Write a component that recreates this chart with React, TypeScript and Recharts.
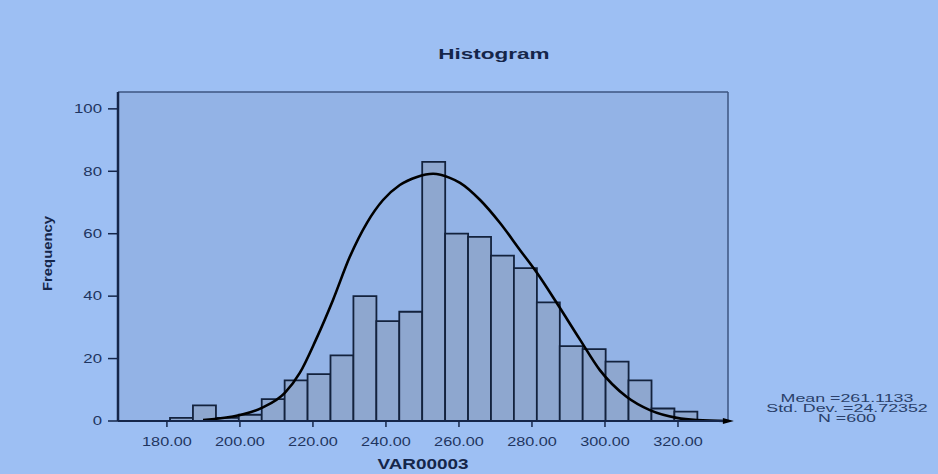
import React from 'react'
import {
  ComposedChart, Bar, Line, XAxis, YAxis, CartesianGrid, ReferenceLine,
} from 'recharts'

// Histogram bins (centre of each bin) and their counts
const BIN_CENTERS = [
  183.99, 190.27, 196.55, 202.83, 209.11, 215.39, 221.67, 227.95,
  234.23, 240.51, 246.79, 253.07, 259.35, 265.63, 271.91, 278.19,
  284.47, 290.75, 297.03, 303.31, 309.59, 315.87, 322.15,
]
const BIN_COUNTS = [
  1, 5, 1, 2, 7, 13, 15, 21,
  40, 32, 35, 83, 60, 59, 53, 49,
  38, 24, 23, 19, 13, 4, 3,
]

// Fitted curve, sampled by eye along the drawn line
const CURVE_X = [
  189.9, 200, 206, 212.3, 216.4, 220.8, 225.5, 230.1, 234.8, 239.2,
  243.8, 248.5, 252.9, 257.5, 260.3, 265.8, 271.2, 276.7, 281.4, 286.8,
  293.2, 298.6, 306, 312.3, 319.7, 325.2, 333.4,
]
const CURVE_Y = [
  0.3, 1.9, 4.2, 9, 15.4, 26, 38.8, 52.6, 63.5, 70.8,
  75.6, 78.2, 79.2, 77.9, 76.3, 70.8, 63.5, 54.8, 47.4, 37.8,
  26, 16.3, 7.7, 3.5, 1.0, 0.3, 0,
]

const X_TICKS = [180, 200, 220, 240, 260, 280, 300, 320]
const Y_TICKS = [0, 20, 40, 60, 80, 100]
const X_DOMAIN: [number, number] = [166.6, 333.7]
const Y_MAX = 105.4

const STATS = ['Mean =261.1133', 'Std. Dev. =24.72352', 'N =600']

const FONT = '"Liberation Sans", Arial, sans-serif'
const INK = '#15264a'
const LABEL = '#1f3560'

const bins = BIN_CENTERS.map((x, i) => ({ x, count: BIN_COUNTS[i] }))
const curve = CURVE_X.map((x, i) => ({ x, y: CURVE_Y[i] }))

function XTick(props: any) {
  const { x, y, payload } = props
  return (
    <g transform={`translate(${x},${y})`}>
      <text dy={17} textAnchor="middle" transform="scale(1.3,1)"
        fontSize={12.5} fill={LABEL} fontFamily={FONT}>
        {Number(payload.value).toFixed(2)}
      </text>
    </g>
  )
}

function YTick(props: any) {
  const { x, y, payload } = props
  return (
    <g transform={`translate(${x - 4},${y})`}>
      <text dy={4.3} textAnchor="end" transform="scale(1.4,1)"
        fontSize={12} fill={LABEL} fontFamily={FONT}>
        {payload.value}
      </text>
    </g>
  )
}

function CurveEnd(props: any) {
  const { cx, cy, index } = props
  if (index !== CURVE_X.length - 1) return <g key={index} />
  return (
    <path key={index} d={`M${cx - 4},${cy - 3}L${cx + 7},${cy}L${cx - 4},${cy + 3}Z`} fill="#000" />
  )
}

export default function App() {
  return (
    <div style={{
      position: 'absolute', left: 0, top: 0, width: 938, height: 474,
      background: '#9dbff3', overflow: 'hidden', fontFamily: FONT,
    }}>
      {/* title */}
      <div style={{
        position: 'absolute', left: 394, top: 46, width: 200, textAlign: 'center',
        fontSize: 15, lineHeight: '15px', fontWeight: 700, color: INK,
        transform: 'scaleX(1.5)',
      }}>Histogram</div>

      {/* y axis title */}
      <div style={{
        position: 'absolute', left: -3, top: 247, width: 100, textAlign: 'center',
        fontSize: 13, lineHeight: '13px', fontWeight: 700, color: INK,
        transform: 'rotate(-90deg) scaleX(1.14)',
      }}>Frequency</div>

      {/* x axis title */}
      <div style={{
        position: 'absolute', left: 323, top: 456, width: 200, textAlign: 'center',
        fontSize: 15, lineHeight: '15px', fontWeight: 700, color: INK,
        transform: 'scaleX(1.26)',
      }}>VAR00003</div>

      {/* stats box */}
      <div style={{
        position: 'absolute', left: 747, top: 394, width: 200, textAlign: 'center',
        fontSize: 10, lineHeight: '10px', color: '#2a3f6a',
        transform: 'scaleX(1.78)',
      }}>
        {STATS.map((s) => <div key={s}>{s}</div>)}
      </div>

      <div style={{ position: 'absolute', left: 0, top: 0 }}>
        <ComposedChart width={938} height={474} data={bins}
          barCategoryGap={0} barGap={0}
          margin={{ top: 92, right: 210, bottom: 23, left: 58 }}>
          <CartesianGrid horizontal={false} vertical={false} fill="#93b3e6" />
          <XAxis xAxisId="bins" type="number" dataKey="x" domain={X_DOMAIN}
            orientation="top" height={0} hide />
          <XAxis xAxisId="val" type="number" dataKey="x" domain={X_DOMAIN}
            ticks={X_TICKS} height={30} tick={<XTick />}
            tickSize={6} axisLine={{ stroke: INK, strokeWidth: 2 }}
            tickLine={{ stroke: INK, strokeWidth: 1.5 }} />
          <YAxis type="number" domain={[0, Y_MAX]} ticks={Y_TICKS} width={60}
            tick={<YTick />} tickSize={10}
            axisLine={{ stroke: INK, strokeWidth: 2.5 }}
            tickLine={{ stroke: INK, strokeWidth: 1.5 }} />
          <ReferenceLine xAxisId="val" y={Y_MAX} stroke="#3d5580" strokeWidth={1.5} />
          <ReferenceLine xAxisId="val" x={X_DOMAIN[1]} stroke="#3d5580" strokeWidth={1.5} />
          <Bar xAxisId="bins" dataKey="count" fill="#8ea7cf" stroke="#13223d"
            strokeWidth={1.8} isAnimationActive={false} />
          <Line xAxisId="val" data={curve} dataKey="y" type="monotone"
            stroke="#000" strokeWidth={2.6} dot={CurveEnd} activeDot={false}
            isAnimationActive={false} />
        </ComposedChart>
      </div>
    </div>
  )
}
